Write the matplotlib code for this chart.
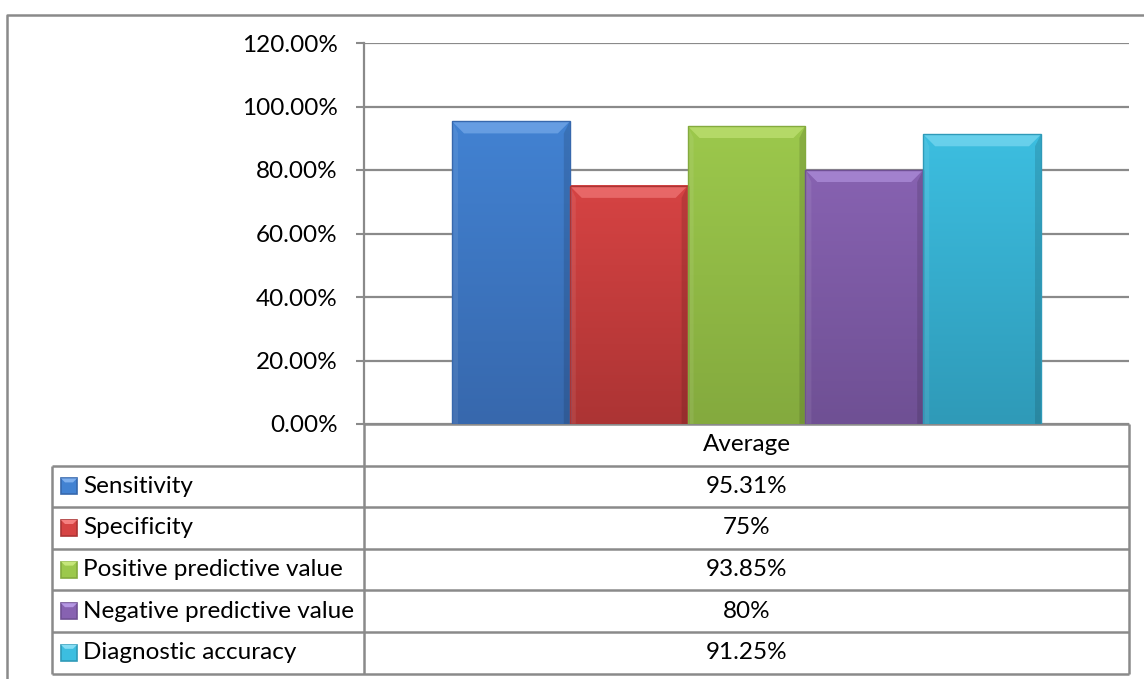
import numpy as np
import matplotlib
matplotlib.use("Agg")
import matplotlib.pyplot as plt
from matplotlib.patches import Polygon
from matplotlib.colors import to_rgb

# data
group = "Average"
measures = ["Sensitivity", "Specificity", "Positive predictive value",
            "Negative predictive value", "Diagnostic accuracy"]
values = [0.9531, 0.75, 0.9385, 0.80, 0.9125]
yticks = [0.0, 0.2, 0.4, 0.6, 0.8, 1.0, 1.2]

# colours (top, bottom, bevel light)
tops = ["#4282D2", "#D64343", "#9CC84C", "#8762B1", "#3CBEE0"]
bottoms = ["#3768AD", "#AC3434", "#84AA3E", "#6F5094", "#2F9AB8"]
lights = ["#7FB0EE", "#F58080", "#C6E67A", "#B597E3", "#86DDF4"]

grid_col = "#8a8a8a"
plt.rcParams['font.family'] = ['Lato', 'DejaVu Sans']
fs = 17.5

W, H = 1144, 679
fig = plt.figure(figsize=(W / 100, H / 100), dpi=100)

# plot area (pixels): x 364..1129, y 43..424
px_l, px_r, px_t, px_b = 364, 1129, 43, 424
ax = fig.add_axes([px_l / W, 1 - px_b / H, (px_r - px_l) / W, (px_b - px_t) / H])

n = len(values)
bw = 117.8 / (px_r - px_l)
xs = (np.arange(n) - (n - 1) / 2) * bw
bars = ax.bar(xs, values, width=bw, color=tops, edgecolor="none", zorder=2)

# pixel -> data scale for bevels
sx = 1.0 / (px_r - px_l)
sy = 1.2 / (px_b - px_t)
for i, b in enumerate(bars):
    x0, w, h = b.get_x(), b.get_width(), b.get_height()
    c1, c2 = np.array(to_rgb(tops[i])), np.array(to_rgb(bottoms[i]))
    t = np.linspace(0, 1, 100)[:, None]
    grad = (c1 * (1 - t) + c2 * t)[:, None, :]
    ax.imshow(grad, extent=[x0, x0 + w, 0, h], aspect='auto', zorder=2.1,
              interpolation='bilinear')
    bx, by = 12 * sx, 12 * sy
    # top bevel
    ax.add_patch(Polygon([[x0, h], [x0 + w, h], [x0 + w - bx, h - by], [x0 + bx, h - by]],
                         closed=True, facecolor=lights[i], edgecolor="none", alpha=0.6, zorder=2.2))
    # side bevels
    ax.add_patch(Polygon([[x0, h], [x0 + bx * 0.5, h - by], [x0 + bx * 0.5, 0], [x0, 0]],
                         closed=True, facecolor="white", edgecolor="none", alpha=0.08, zorder=2.2))
    ax.add_patch(Polygon([[x0 + w, h], [x0 + w - bx * 0.5, h - by], [x0 + w - bx * 0.5, 0], [x0 + w, 0]],
                         closed=True, facecolor="black", edgecolor="none", alpha=0.12, zorder=2.2))
    ax.add_patch(Polygon([[x0, h], [x0 + w, h], [x0 + w, 0], [x0, 0]],
                         closed=True, facecolor="none", edgecolor=bottoms[i], lw=1.0, zorder=2.3))

ax.set_xlim(-0.5, 0.5)
ax.set_ylim(0, 1.2)
ax.set_yticks(yticks)
ax.set_yticklabels(["{:.2f}%".format(v * 100) for v in yticks], fontsize=fs)
ax.set_xticks([])
ax.yaxis.grid(True, color=grid_col, lw=1.6, zorder=0)
ax.set_axisbelow(True)
ax.tick_params(axis='y', length=6, width=1.5, color=grid_col, pad=13)
for s in ["top", "right", "bottom"]:
    ax.spines[s].set_visible(False)
ax.spines["left"].set_color(grid_col)
ax.spines["left"].set_linewidth(1.6)
ax.patch.set_alpha(0)

# overlay in pixel coordinates for table and frame
ov = fig.add_axes([0, 0, 1, 1], zorder=-1)
ov.set_xlim(0, W)
ov.set_ylim(H, 0)
ov.axis("off")
lc = dict(color=grid_col, lw=1.8, solid_capstyle="butt")

# outer frame
ov.plot([7, 7, W], [H, 15, 15], **lc)

# data table
row_h = 41.6
tab_l = 52
rows_y = [px_b + row_h * k for k in range(n + 2)]
ov.plot([px_l, px_l], [px_b, rows_y[-1]], **lc)
ov.plot([px_r, px_r], [px_b, rows_y[-1]], **lc)
ov.plot([tab_l, tab_l], [rows_y[1], rows_y[-1]], **lc)
ov.plot([px_l, px_r], [px_b, px_b], **lc)
for yy in rows_y[1:]:
    ov.plot([tab_l, px_r], [yy, yy], **lc)

mid_x = (px_l + px_r) / 2
ov.text(mid_x, (rows_y[0] + rows_y[1]) / 2, group, ha="center", va="center", fontsize=fs)
for k in range(n):
    yc = (rows_y[k + 1] + rows_y[k + 2]) / 2
    ov.add_patch(plt.Rectangle((61, yc - 8), 16, 16, facecolor=tops[k],
                               edgecolor=bottoms[k], lw=1.2))
    ov.add_patch(Polygon([[61, yc - 8], [77, yc - 8], [73, yc - 4], [65, yc - 4]],
                         closed=True, facecolor=lights[k], edgecolor="none"))
    ov.text(83, yc, measures[k], ha="left", va="center", fontsize=fs)
    ov.text(mid_x, yc, "{:g}%".format(round(values[k] * 100, 2)),
            ha="center", va="center", fontsize=fs)

fig.savefig("out.png", dpi=100)
